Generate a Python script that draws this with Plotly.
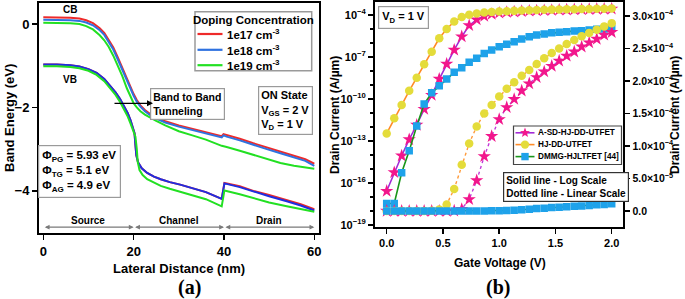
import math
import plotly.graph_objects as go

W, H = 685, 299


def px(x):
    return x / W


def py(y):
    return 1 - y / H


FONT = "Liberation Sans, Arial, sans-serif"

# ---------------- Panel (a) data: band diagram ----------------
dist_cb = [0, 3, 6, 8, 9.5, 11, 12.5, 13.5, 14.5, 15.5, 16.5, 17.5, 18.5, 19.3, 20, 20.7, 21.5,
           22.5, 23.6, 25, 27, 30, 33, 36, 39.5, 39.9, 40.6, 43.5, 46.5, 49.5, 52.5, 55.5, 58, 60]
cb_1e17 = [0.16, 0.16, 0.15, 0.13, 0.09, 0.02, -0.1, -0.21, -0.37, -0.56, -0.8, -1.06, -1.32, -1.52,
           -1.68, -1.82, -1.95, -2.06, -2.15, -2.24, -2.33, -2.43, -2.51, -2.59, -2.69, -2.64, -2.66,
           -2.75, -2.86, -2.96, -3.06, -3.15, -3.24, -3.35]
cb_1e18 = [0.1, 0.1, 0.09, 0.075, 0.035, -0.03, -0.15, -0.26, -0.42, -0.61, -0.85, -1.11, -1.37, -1.56,
           -1.72, -1.86, -1.98, -2.09, -2.18, -2.27, -2.36, -2.46, -2.54, -2.62, -2.72, -2.67, -2.7,
           -2.79, -2.9, -3.0, -3.1, -3.19, -3.28, -3.4]
cb_1e19 = [0.03, 0.03, 0.02, 0.0, -0.05, -0.13, -0.27, -0.39, -0.55, -0.76, -1.0, -1.25, -1.54, -1.74,
           -1.9, -2.0, -2.09, -2.17, -2.24, -2.32, -2.43, -2.57, -2.67, -2.77, -2.92, -2.93, -2.95,
           -3.04, -3.14, -3.24, -3.33, -3.4, -3.44, -3.47]

dist_vb = [0, 3, 6, 8, 10, 11.8, 13.5, 14.8, 16, 17, 18, 18.7, 19.3, 19.9, 20.2, 20.4, 20.6, 21.0,
           21.8, 23, 24.5, 26, 28, 30.3, 33, 36, 39.5, 40.1, 43.5, 46.5, 50, 53.9, 57, 60]
vb_1e17 = [-0.97, -0.97, -0.99, -1.02, -1.08, -1.17, -1.32, -1.48, -1.64, -1.8, -1.98, -2.14, -2.3,
           -2.5, -2.62, -2.9, -3.15, -3.32, -3.46, -3.57, -3.66, -3.72, -3.79, -3.85, -3.93, -4.03,
           -4.19, -3.81, -3.89, -4.0, -4.1, -4.22, -4.32, -4.44]
vb_1e18 = [-0.97, -0.97, -0.99, -1.02, -1.08, -1.17, -1.32, -1.48, -1.64, -1.8, -1.98, -2.14, -2.3,
           -2.5, -2.62, -2.9, -3.15, -3.32, -3.46, -3.57, -3.66, -3.72, -3.79, -3.85, -3.93, -4.03,
           -4.19, -3.82, -3.91, -4.02, -4.13, -4.25, -4.35, -4.47]
dist_vb_1e19 = [0, 3, 6, 8, 10, 11.8, 13.5, 14.8, 16, 17, 18, 18.7, 19.3, 19.9, 20.4, 20.7, 20.9,
                21.3, 22, 23, 24.5, 26, 28, 30.3, 33, 36, 39.5, 40.1, 43.5, 46.5, 50, 53.9, 57, 60]
vb_1e19 = [-1.01, -1.01, -1.03, -1.06, -1.12, -1.22, -1.37, -1.53, -1.7, -1.87, -2.06, -2.22, -2.38,
           -2.55, -2.7, -3.0, -3.3, -3.5, -3.62, -3.72, -3.81, -3.88, -3.95, -4.02, -4.1, -4.2,
           -4.37, -3.99, -4.08, -4.18, -4.28, -4.37, -4.44, -4.5]

doping_labels = ["1e17 cm<sup>-3</sup>", "1e18 cm<sup>-3</sup>", "1e19 cm<sup>-3</sup>"]
doping_colors = ["#ee2a2a", "#2f72e0", "#22e022"]

# ---------------- Panel (b) data: transfer characteristics ----------------
gate_v = [0, 0.067, 0.133, 0.2, 0.267, 0.333, 0.4, 0.467, 0.533, 0.6, 0.667, 0.733, 0.8, 0.867,
          0.933, 1.0, 1.067, 1.133, 1.2, 1.267, 1.333, 1.4, 1.467, 1.533, 1.6, 1.667, 1.733, 1.8,
          1.867, 1.933, 2.0]
id_asd = [2.7e-17, 5.8e-16, 8.9e-15, 1.3e-13, 1.4e-12, 1.9e-11, 1.9e-10, 2.7e-9, 3.2e-8, 3.2e-7,
          2.9e-6, 1.8e-5, 4.7e-5, 8.4e-5, 1.15e-4, 1.41e-4, 1.595e-4, 1.72e-4, 1.85e-4, 1.96e-4,
          2.057e-4, 2.143e-4, 2.23e-4, 2.31e-4, 2.385e-4, 2.45e-4, 2.527e-4, 2.59e-4, 2.646e-4,
          2.708e-4, 2.75e-4]
id_hj = [3.5e-13, 4.2e-12, 3.7e-11, 3.9e-10, 3.3e-9, 3.0e-8, 2.4e-7, 2.2e-6, 1.0e-5, 3.4e-5,
         7.1e-5, 1.04e-4, 1.3e-4, 1.5e-4, 1.63e-4, 1.76e-4, 1.88e-4, 1.98e-4, 2.08e-4, 2.17e-4,
         2.26e-4, 2.35e-4, 2.43e-4, 2.5e-4, 2.57e-4, 2.63e-4, 2.69e-4, 2.74e-4, 2.79e-4, 2.84e-4,
         2.89e-4]
id_dmmg = [3.5e-18, 3.5e-18, 5.5e-16, 2.0e-14, 1.2e-12, 4.4e-11, 2.8e-10, 8.9e-10, 2.7e-9, 8.1e-9,
           1.7e-8, 4.2e-8, 8.1e-8, 1.8e-7, 3.2e-7, 5.5e-7, 8.1e-7, 1.23e-6, 1.95e-6, 2.8e-6, 3.7e-6,
           4.4e-6, 5.5e-6, 5.8e-6, 6.5e-6, 7.2e-6, 7.6e-6, 8.5e-6, 9.5e-6, 1.0e-5, 1.12e-5]

device_names = ["A-SD-HJ-DD-UTFET", "HJ-DD-UTFET", "DMMG-HJLTFET [44]"]

log_tickvals = [1e-19, 1e-16, 1e-13, 1e-10, 1e-7, 1e-4]
log_ticktext = ["10<sup>−19</sup>", "10<sup>−16</sup>", "10<sup>−13</sup>", "10<sup>−10</sup>",
                "10<sup>−7</sup>", "10<sup>−4</sup>"]
log_minor = [1e-18, 1e-17, 1e-15, 1e-14, 1e-12, 1e-11, 1e-9, 1e-8, 1e-6, 1e-5]
lin_tickvals = [0, 5e-5, 1e-4, 1.5e-4, 2e-4, 2.5e-4, 3e-4]
lin_ticktext = ["0.0", "5.0×10<sup>−5</sup>", "1.0×10<sup>−4</sup>", "1.5×10<sup>−4</sup>",
                "2.0×10<sup>−4</sup>", "2.5×10<sup>−4</sup>", "3.0×10<sup>−4</sup>"]

fig = go.Figure()

# Panel (a) traces
for xs, ys, name, col in [(dist_cb, cb_1e17, doping_labels[0], doping_colors[0]),
                          (dist_cb, cb_1e18, doping_labels[1], doping_colors[1]),
                          (dist_cb, cb_1e19, doping_labels[2], doping_colors[2])]:
    fig.add_trace(go.Scatter(x=xs, y=ys, mode="lines", name=name, showlegend=False,
                             line=dict(color=col, width=2), xaxis="x", yaxis="y"))
for xs, ys, col in [(dist_vb, vb_1e17, doping_colors[0]),
                    (dist_vb, vb_1e18, "#1f2ee0"),
                    (dist_vb_1e19, vb_1e19, doping_colors[2])]:
    fig.add_trace(go.Scatter(x=xs, y=ys, mode="lines", showlegend=False,
                             line=dict(color=col, width=2), xaxis="x", yaxis="y"))

# Panel (b) traces
styles = [
    dict(sym="star", mcol="#f2168c", lcol="#a32ad6", dcol="#c23ad8", size=10),
    dict(sym="circle", mcol="#e4dc3a", lcol="#ff8c28", dcol="#ff9a3a", size=8.5),
    dict(sym="square", mcol="#1ea2ea", lcol="#1a961a", dcol="#1a961a", size=7.5),
]
series = [id_asd, id_hj, id_dmmg]
for vals, name, st in zip(series, device_names, styles):
    fig.add_trace(go.Scatter(x=gate_v, y=vals, mode="lines+markers", name=name, showlegend=False,
                             line=dict(color=st["lcol"], width=1.6),
                             marker=dict(symbol=st["sym"], color=st["mcol"], size=st["size"],
                                         line=dict(width=0)),
                             xaxis="x2", yaxis="y2"))
for vals, name, st in zip(series, device_names, styles):
    fig.add_trace(go.Scatter(x=gate_v, y=vals, mode="lines+markers", name=name, showlegend=False,
                             line=dict(color=st["dcol"], width=1.4, dash="dot"),
                             marker=dict(symbol=st["sym"], color=st["mcol"], size=st["size"],
                                         line=dict(width=0)),
                             xaxis="x2", yaxis="y3"))

axis_common = dict(showline=True, linecolor="black", linewidth=2, ticks="outside",
                   tickcolor="black", tickwidth=1.5, showgrid=False, zeroline=False,
                   automargin=False)

fig.update_layout(
    template="none",
    width=W, height=H, margin=dict(l=0, r=0, t=0, b=0, autoexpand=False),
    paper_bgcolor="white", plot_bgcolor="white",
    font=dict(family=FONT, color="black", weight="bold"),
    showlegend=False,
    xaxis=dict(domain=[px(39), px(319)], range=[-0.95, 61.04], anchor="y", mirror=True,
               tickvals=[0, 20, 40, 60], ticklen=5, tickfont=dict(size=13, weight="bold"),
               **axis_common),
    yaxis=dict(domain=[py(233), py(3)], range=[-5.01, 0.504], anchor="x", mirror=True,
               tickvals=[-4, -2, 0], ticklen=5, tickfont=dict(size=13, weight="bold"),
               **axis_common),
    xaxis2=dict(domain=[px(375), px(623.3)], range=[-0.104, 2.103], anchor="y2", mirror=True,
                tickvals=[0, 0.5, 1.0, 1.5, 2.0], ticktext=["0.0", "0.5", "1.0", "1.5", "2.0"],
                ticklen=5, tickfont=dict(size=11, weight="bold"), **axis_common),
    yaxis2=dict(domain=[py(226.5), py(2)], type="log", range=[-19.1, -3.07], anchor="x2",
                mirror=True, tickvals=log_tickvals, ticktext=log_ticktext, ticklen=5,
                tickfont=dict(size=11, weight="bold"),
                minor=dict(tickvals=log_minor, ticks="outside", ticklen=3, tickcolor="black",
                           tickwidth=1.2),
                **axis_common),
    yaxis3=dict(overlaying="y2", side="right", anchor="x2", range=[-2.38e-5, 3.215e-4],
                tickvals=lin_tickvals, ticktext=lin_ticktext, ticklen=5,
                tickfont=dict(size=10.5, weight="bold"), **axis_common),
)

ann = []
shapes = []


def txt(x, y, text, size=11, xanchor="center", **kw):
    d = dict(x=px(x), y=py(y), xref="paper", yref="paper", text=text, showarrow=False,
             xanchor=xanchor, yanchor="middle",
             font=dict(size=size, family=FONT, color="black", weight="bold"))
    d.update(kw)
    ann.append(d)


def seg(x0, x1, y, color, width, dash=None):
    shapes.append(dict(type="line", xref="paper", yref="paper", x0=px(x0), x1=px(x1),
                       y0=py(y), y1=py(y), layer="above",
                       line=dict(color=color, width=width, dash=dash)))


def box(x0, y0, x1, y1, color, width):
    shapes.append(dict(type="rect", xref="paper", yref="paper", x0=px(x0), x1=px(x1),
                       y0=py(y1), y1=py(y0), layer="above", fillcolor="white",
                       line=dict(color=color, width=width)))


# ---- Panel (a) legend (drawn box) ----
box(195, 11.7, 311.7, 70.7, "#9a9a9a", 1.5)
txt(253.5, 19.8, "Doping Concentration", 11.5)
for yy, lab, col in zip([34, 49.8, 65.2], doping_labels, doping_colors):
    seg(197.5, 222.5, yy, col, 2.2)
    txt(224.5, yy, lab, 11.5, xanchor="left")

# ---- Panel (b) legend (drawn box) ----
box(513.5, 126, 621.5, 164.5, "#444", 1.2)
leg_y = [132.8, 144.6, 156.6]
for yy, name, st in zip(leg_y, device_names, styles):
    seg(515.5, 534.5, yy, st["lcol"], 1.6)
    cx = 525.0
    if st["sym"] == "star":
        pts = []
        for k in range(10):
            r = 5.2 if k % 2 == 0 else 2.2
            a = math.pi / 2 + k * math.pi / 5
            pts.append((cx + r * math.cos(a), yy - r * math.sin(a)))
        path = "M " + " L ".join(f"{px(a):.5f},{py(b):.5f}" for a, b in pts) + " Z"
        shapes.append(dict(type="path", xref="paper", yref="paper", path=path, layer="above",
                           fillcolor=st["mcol"], line=dict(width=0)))
    elif st["sym"] == "circle":
        shapes.append(dict(type="circle", xref="paper", yref="paper", x0=px(cx - 4.2),
                           x1=px(cx + 4.2), y0=py(yy + 4.2), y1=py(yy - 4.2), layer="above",
                           fillcolor=st["mcol"], line=dict(width=0)))
    else:
        shapes.append(dict(type="rect", xref="paper", yref="paper", x0=px(cx - 3.7),
                           x1=px(cx + 3.7), y0=py(yy + 3.7), y1=py(yy - 3.7), layer="above",
                           fillcolor=st["mcol"], line=dict(width=0)))
    txt(535.5, yy, name, 8.2, xanchor="left")

# Panel (a) annotations
txt(70, 10, "CB", 10)
txt(70, 79, "VB", 10)
txt(187.5, 103.5, "Band to Band<br>Tunneling", 10.5, align="left", bordercolor="#9a9a9a",
    borderwidth=1.2, borderpad=2, bgcolor="white")
ann.append(dict(x=px(153), y=py(103.3), xref="paper", yref="paper", ax=-40, ay=0, text="",
                showarrow=True, arrowhead=2, arrowsize=1, arrowwidth=1.2, arrowcolor="black"))
txt(285.8, 110.8, "ON State<br>V<sub>GS</sub> = 2 V<br>V<sub>D</sub> = 1 V", 11, align="left",
    bordercolor="#9a9a9a", borderwidth=1.2, borderpad=2, bgcolor="white")
txt(79, 171.7, "Φ<sub>PG</sub> = 5.93 eV<br>Φ<sub>TG</sub> = 5.1 eV<br>Φ<sub>AG</sub> = 4.9 eV", 11.5,
    align="left", bordercolor="#9a9a9a", borderwidth=1.2, borderpad=3, bgcolor="white")
for a, b in [(0, 20), (20, 40), (40, 60)]:
    ann.append(dict(x=b, y=-4.87, ax=a, ay=-4.87, xref="x", yref="y", axref="x", ayref="y",
                    text="", showarrow=True, arrowside="end+start", arrowhead=2, arrowsize=0.8,
                    arrowwidth=1.2, arrowcolor="#7a7a7a"))
for xc, lab in [(10, "Source"), (30, "Channel"), (50, "Drain")]:
    ann.append(dict(x=xc, y=-4.7, xref="x", yref="y", text=lab, showarrow=False,
                    xanchor="center", yanchor="middle",
                    font=dict(size=10, family=FONT, color="black", weight="bold")))

# Axis titles and panel labels
txt(10, 118, "Band Energy (eV)", 13, textangle=-90)
txt(179, 268, "Lateral Distance (nm)", 13)
txt(335, 115, "Drain Current (A/µm)", 12, textangle=-90)
txt(675, 115, "Drain Current (A/µm)", 12, textangle=-90)
txt(500, 263, "Gate Voltage (V)", 12)
for xx, lab in [(189, "(a)"), (498, "(b)")]:
    ann.append(dict(x=px(xx), y=py(287), xref="paper", yref="paper", text=lab, showarrow=False,
                    xanchor="center", yanchor="middle",
                    font=dict(size=20, family="Liberation Serif, Times New Roman, serif",
                              color="black", weight="bold")))

# Panel (b) annotations
txt(403, 18, "V<sub>D</sub> = 1 V", 11, bordercolor="#9a9a9a", borderwidth=1.2, borderpad=3,
    bgcolor="white")
txt(566, 187, "Solid line - Log Scale<br>Dotted line - Linear Scale", 10, align="left",
    bordercolor="#333", borderwidth=1.2, borderpad=2, bgcolor="white")

fig.update_layout(annotations=ann, shapes=shapes)

fig.write_html("out.html", config={"displayModeBar": False, "staticPlot": True},
               post_script="document.body.style.margin='0';document.body.style.overflow='hidden';")
